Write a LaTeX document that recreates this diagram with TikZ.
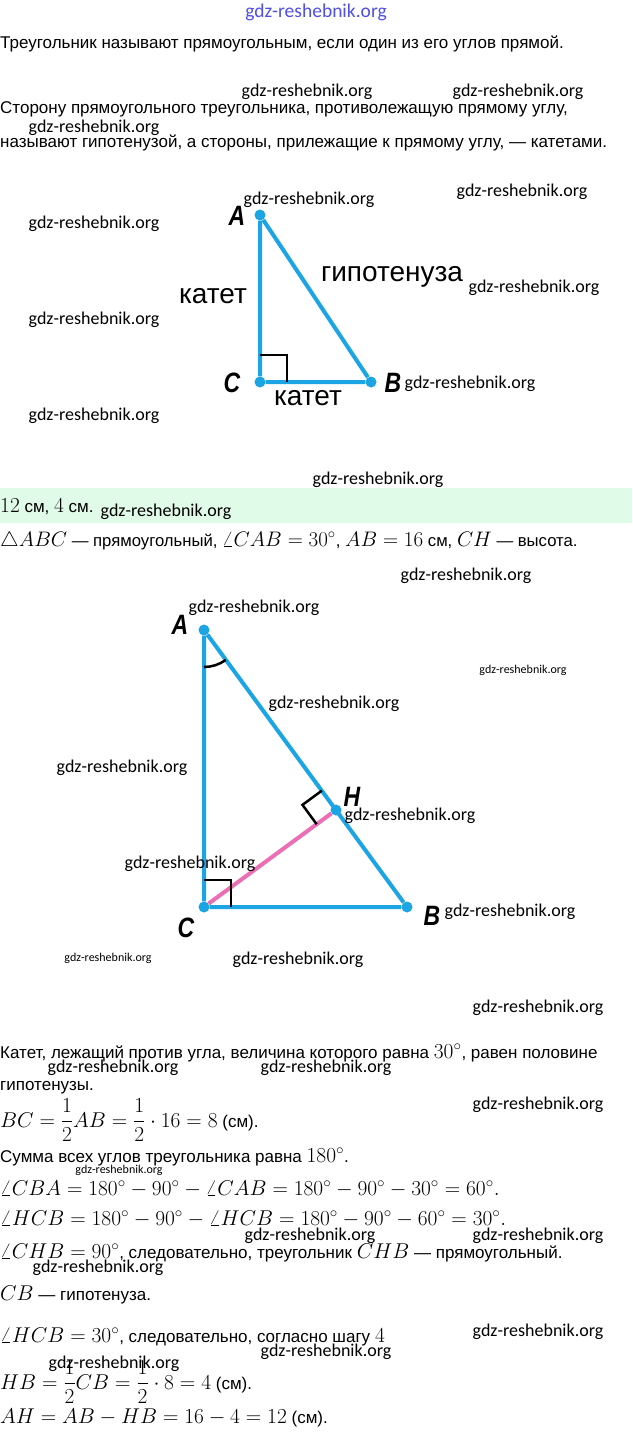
\RequirePackage{fix-cm}
\documentclass[tikz,border=0pt]{standalone}
\usepackage{amsmath}
\usepackage{fontspec}
\setmainfont{Liberation Sans}
\newfontfamily\wmfont{Carlito}
\newfontfamily\ptfont[FakeStretch=0.82]{Liberation Sans}
\usetikzlibrary{calc}
\definecolor{skyblue}{RGB}{28,165,228}
\definecolor{pinkline}{RGB}{236,110,180}
\definecolor{bandgreen}{RGB}{225,251,233}
\definecolor{wmblue}{RGB}{80,80,230}
\newcommand{\mth}[1]{{\fontsize{21.4}{25}\selectfont$#1$}}
\tikzset{
  txt/.style={anchor=base west, inner sep=0pt, font=\fontsize{17}{20}\selectfont},
  wm/.style={inner sep=0pt, font=\wmfont\fontsize{18}{18}\selectfont},
  wms/.style={inner sep=0pt, font=\wmfont\fontsize{12}{12}\selectfont},
  side/.style={draw=skyblue, line width=4pt},
  vertex/.style={circle, fill=skyblue, inner sep=0pt, minimum size=11pt},
  rangle/.style={draw=black, line width=2.5pt},
  ptlabel/.style={inner sep=0pt, font=\ptfont\bfseries\itshape\fontsize{28}{28}\selectfont},
  leg/.style={inner sep=0pt, font=\fontsize{28}{28}\selectfont},
}

\begin{document}
\begin{tikzpicture}[x=1pt, y=-1pt]
\useasboundingbox[fill=white] (0,0) rectangle (632,1432);
% definitions
\node[txt] (t1) at (0,48) {Треугольник называют прямоугольным, если один из его углов прямой.};
\node[txt] (t2) at (0,113) {Сторону прямоугольного треугольника, противолежащую прямому углу,};
\node[txt] (t3) at (0,147) {называют гипотенузой, а стороны, прилежащие к прямому углу, — катетами.};

% first triangle
\node[vertex] (A) at (260,215) {};
\node[vertex] (C) at (260,382) {};
\node[vertex] (B) at (371,382) {};
\draw[side] (A) -- (C) -- (B) -- (A);
\draw[rangle] ($(C)+(0,-27)$) -- ($(C)+(27,-27)$) -- ($(C)+(27,0)$);
\node[ptlabel] (lA) at (237,216) {A};
\node[ptlabel] (lC) at (232,383) {C};
\node[ptlabel] (lB) at (393,383) {B};
\node[leg] (leg1) at (213,296) {катет};
\node[leg] (hyp) at (392,277) {гипотенуза};
\node[leg] (leg2) at (308,398) {катет};

% answer and given
\fill[bandgreen] (0,488) rectangle (632,523);
\node[txt] (ans) at (0,512) {\mth{12}~см, \mth{4}~см.};
\node[txt, font=\fontsize{16.7}{20}\selectfont] (given) at (0,546) {{\fontsize{21}{25}\selectfont$\triangle ABC$} — прямоугольный, {\fontsize{21}{25}\selectfont$\angle CAB=30^\circ$}, {\fontsize{21}{25}\selectfont$AB=16$}~см, {\fontsize{21}{25}\selectfont$CH$} — высота.};

% second triangle
\node[vertex] (A2) at (204,630) {};
\node[vertex] (C2) at (204,907) {};
\node[vertex] (B2) at (407,907) {};
\node[vertex] (H2) at (336,810) {};
\draw[draw=pinkline, line width=4pt] (C2) -- (H2);
\draw[side] (A2) -- (C2) -- (B2) -- (A2);
\draw[rangle] ($(C2)+(0,-27)$) -- ($(C2)+(27,-27)$) -- ($(C2)+(27,0)$);
\coordinate (h1) at ($(H2)!24pt!(A2)$);
\coordinate (h2) at ($(H2)!24pt!(C2)$);
\draw[rangle] (h1) -- ($(h1)+(h2)-(H2)$) -- (h2);
\draw[rangle] ($(A2)+(0,37)$) arc[start angle=90, end angle=54, radius=37];
\node[ptlabel] (lA2) at (180,625) {A};
\node[ptlabel] (lH2) at (352,797) {H};
\node[ptlabel] (lC2) at (186,928) {C};
\node[ptlabel] (lB2) at (432,916) {B};

% solution
\node[txt] (t4) at (0,1058) {Катет, лежащий против угла, величина которого равна \mth{30^\circ}, равен половине};
\node[txt] (t5) at (0,1090) {гипотенузы.};
\node[txt] (t6) at (0,1127) {\mth{BC=\dfrac{1}{2}AB=\dfrac{1}{2}\cdot 16=8} (см).};
\node[txt] (t7) at (0,1162) {Сумма всех углов треугольника равна \mth{180^\circ}.};
\node[txt] (t8) at (0,1195) {\mth{\angle CBA=180^\circ-90^\circ-\angle CAB=180^\circ-90^\circ-30^\circ=60^\circ.}};
\node[txt] (t9) at (0,1225) {\mth{\angle HCB=180^\circ-90^\circ-\angle HCB=180^\circ-90^\circ-60^\circ=30^\circ.}};
\node[txt] (t10) at (0,1258) {\mth{\angle CHB=90^\circ}, следовательно, треугольник \mth{CHB} — прямоугольный.};
\node[txt] (t11) at (0,1300) {\mth{CB} — гипотенуза.};
\node[txt] (t12) at (0,1342) {\mth{\angle HCB=30^\circ}, следовательно, согласно шагу \mth{4}};
\node[txt] (t13) at (0,1389) {\mth{HB=\dfrac{1}{2}CB=\dfrac{1}{2}\cdot 8=4} (см).};
\node[txt] (t14) at (0,1423) {\mth{AH=AB-HB=16-4=12} (см).};

% watermarks
\node[wm, text=wmblue, font=\wmfont\fontsize{19.5}{19.5}\selectfont] (w0) at (316,12) {gdz-reshebnik.org};
\node[wm] (w1) at (307,92) {gdz-reshebnik.org};
\node[wm] (w2) at (518,92) {gdz-reshebnik.org};
\node[wm] (w3) at (94,128) {gdz-reshebnik.org};
\node[wm] (w4) at (309,200) {gdz-reshebnik.org};
\node[wm] (w5) at (522,192) {gdz-reshebnik.org};
\node[wm] (w6) at (94,224) {gdz-reshebnik.org};
\node[wm] (w7) at (534,288) {gdz-reshebnik.org};
\node[wm] (w8) at (94,320) {gdz-reshebnik.org};
\node[wm] (w9) at (470,384) {gdz-reshebnik.org};
\node[wm] (w10) at (94,416) {gdz-reshebnik.org};
\node[wm] (w11) at (378,480) {gdz-reshebnik.org};
\node[wm] (w12) at (166,512) {gdz-reshebnik.org};
\node[wm] (w13) at (466,576) {gdz-reshebnik.org};
\node[wm] (w14) at (254,608) {gdz-reshebnik.org};
\node[wms] (w15) at (523,670) {gdz-reshebnik.org};
\node[wm] (w16) at (334,704) {gdz-reshebnik.org};
\node[wm] (w17) at (122,768) {gdz-reshebnik.org};
\node[wm] (w18) at (410,816) {gdz-reshebnik.org};
\node[wm] (w19) at (190,864) {gdz-reshebnik.org};
\node[wm] (w20) at (510,912) {gdz-reshebnik.org};
\node[wms] (w21) at (108,958) {gdz-reshebnik.org};
\node[wm] (w22) at (298,960) {gdz-reshebnik.org};
\node[wm] (w23) at (538,1008) {gdz-reshebnik.org};
\node[wm] (w24) at (113,1068) {gdz-reshebnik.org};
\node[wm] (w25) at (326,1068) {gdz-reshebnik.org};
\node[wm] (w26) at (538,1105) {gdz-reshebnik.org};
\node[wms] (w27) at (119,1170) {gdz-reshebnik.org};
\node[wm] (w28) at (310,1236) {gdz-reshebnik.org};
\node[wm] (w29) at (538,1236) {gdz-reshebnik.org};
\node[wm] (w30) at (98,1268) {gdz-reshebnik.org};
\node[wm] (w31) at (538,1332) {gdz-reshebnik.org};
\node[wm] (w32) at (326,1352) {gdz-reshebnik.org};
\node[wm] (w33) at (114,1364) {gdz-reshebnik.org};
\end{tikzpicture}
\end{document}
